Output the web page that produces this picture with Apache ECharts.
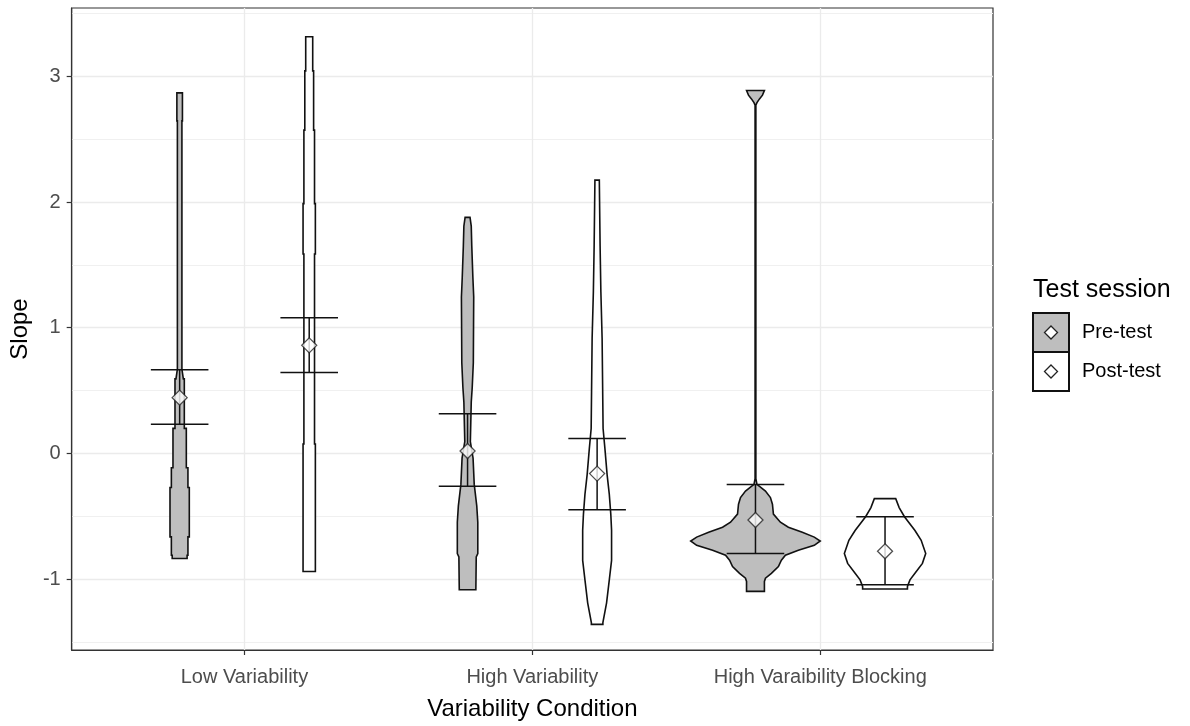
<!DOCTYPE html>
<html>
<head>
<meta charset="utf-8">
<script src="https://cdn.jsdelivr.net/npm/echarts@6/dist/echarts.min.js"></script>
<style>
  html, body { margin: 0; padding: 0; background: #ffffff; }
  #chart { width: 1190px; height: 726px; }
</style>
</head>
<body>
<div id="chart"></div>
<script>
// ---- data ----------------------------------------------------------------
const conditions = ['Low Variability', 'High Variability', 'High Varaibility Blocking'];
const sessions = ['Pre-test', 'Post-test'];
const yTicks = [-1, 0, 1, 2, 3];
const yMinorTicks = [-1.5, -0.5, 0.5, 1.5, 2.5, 3.5];

// violin outlines, top to bottom: [slope, relative density (widest = 100)]
const preLowProfile = [[2.868, 4.3], [2.645, 4.3], [2.645, 3.5], [0.67, 3.5], [0.593, 5.7], [0.593, 7.2], [0.2, 7.2], [0.2, 10.3], [-0.114, 10.3], [-0.114, 12.8], [-0.27, 12.8], [-0.27, 14.9], [-0.663, 14.9], [-0.663, 12.8], [-0.81, 12.8], [-0.81, 11.5], [-0.835, 11.5]];
const preHighProfile = [[1.878, 3.8], [1.808, 5.7], [1.651, 6.5], [1.402, 8.2], [1.245, 9.5], [0.722, 8.9], [0.525, 7.2], [0.408, 5.7], [0.094, 4.3], [-0.037, 8.5], [-0.246, 10.3], [-0.417, 14.2], [-0.547, 15.8], [-0.796, 15.8], [-0.822, 13.4], [-1.084, 12.8]];
const preBlockProfile = [[2.887, 13.8], [2.85, 10.8], [2.82, 6.2], [2.79, 2.3], [2.77, 0.6], [-0.2, 0.6], [-0.246, 2.3], [-0.299, 15.4], [-0.351, 23.1], [-0.403, 26.2], [-0.482, 27.7], [-0.547, 38.5], [-0.587, 50.8], [-0.626, 72.3], [-0.665, 90.8], [-0.696, 100], [-0.731, 90.8], [-0.77, 66.2], [-0.809, 46.2], [-0.849, 40], [-0.9, 35.4], [-0.953, 24.6], [-0.992, 15.4], [-1.018, 13.8], [-1.097, 13.8]];

const postLowProfile = [[3.314, 5.4], [3.043, 5.4], [3.043, 6.8], [2.572, 6.8], [2.572, 8.2], [1.987, 8.2], [1.987, 9.5], [1.587, 9.5], [1.587, 8.2], [0.075, 8.2], [0.075, 9.5], [-0.939, 9.5]];
const postHighProfile = [[2.174, 3.4], [1.651, 4.6], [1.284, 5.8], [0.918, 7.7], [0.199, 9.2], [0.041, 12], [-0.168, 15.4], [-0.325, 18.8], [-0.482, 21.1], [-0.61, 22.3], [-0.85, 22.3], [-1.005, 18.8], [-1.188, 14.6], [-1.345, 8.9], [-1.359, 8.9]];
const postBlockProfile = [[-0.359, 16.5], [-0.43, 21.8], [-0.503, 30], [-0.613, 46.2], [-0.691, 55.8], [-0.796, 62.8], [-0.874, 57.7], [-0.953, 46.2], [-1.005, 38.5], [-1.057, 34.6], [-1.078, 34.6]];

// mean and interval per condition
const preMean = [0.444, 0.02, -0.529];
const preLower = [0.232, -0.26, -0.795];
const preUpper = [0.665, 0.316, -0.246];
const postMean = [0.86, -0.16, -0.778];
const postLower = [0.645, -0.448, -1.045];
const postUpper = [1.08, 0.12, -0.503];

// ---- layout --------------------------------------------------------------
const DODGE = 0.225;      // offset of each session from the condition centre
const SLOT_HALF = 0.225;  // half width of the widest violin
const CAP_HALF = 0.1;     // half width of the interval caps
const FONT = '"Liberation Sans", Arial, sans-serif';
const FILLS = ['#BEBEBE', '#FFFFFF'];
const INK = '#111111';

const preProfiles = [preLowProfile, preHighProfile, preBlockProfile];
const postProfiles = [postLowProfile, postHighProfile, postBlockProfile];

function violinRenderer(profiles, offset, fill) {
  return function (params, api) {
    const i = params.dataIndex;
    const prof = profiles[i];
    const cx = i + 1 + offset;
    const left = prof.map(p => api.coord([cx - p[1] / 100 * SLOT_HALF, p[0]]));
    const right = prof.slice().reverse().map(p => api.coord([cx + p[1] / 100 * SLOT_HALF, p[0]]));
    return {
      type: 'polygon',
      shape: { points: left.concat(right) },
      style: { fill: fill, stroke: INK, lineWidth: 1.6, lineJoin: 'miter' }
    };
  };
}

function intervalRenderer(lower, upper, offset) {
  return function (params, api) {
    const i = params.dataIndex;
    const cx = i + 1 + offset;
    const lo = api.coord([cx, lower[i]]);
    const hi = api.coord([cx, upper[i]]);
    const loL = api.coord([cx - CAP_HALF, lower[i]]);
    const loR = api.coord([cx + CAP_HALF, lower[i]]);
    const hiL = api.coord([cx - CAP_HALF, upper[i]]);
    const hiR = api.coord([cx + CAP_HALF, upper[i]]);
    const st = { stroke: INK, lineWidth: 1.5 };
    return {
      type: 'group',
      children: [
        { type: 'line', shape: { x1: lo[0], y1: lo[1], x2: hi[0], y2: hi[1] }, style: st },
        { type: 'line', shape: { x1: loL[0], y1: loL[1], x2: loR[0], y2: loR[1] }, style: st },
        { type: 'line', shape: { x1: hiL[0], y1: hiL[1], x2: hiR[0], y2: hiR[1] }, style: st }
      ]
    };
  };
}

const catData = conditions.map((c, i) => [i + 1, 0]);

const series = [];
[[preProfiles, preLower, preUpper, preMean, -DODGE],
 [postProfiles, postLower, postUpper, postMean, DODGE]].forEach((s, k) => {
  const [profiles, lower, upper, mean, offset] = s;
  series.push({
    name: sessions[k], type: 'custom', z: 2,
    renderItem: violinRenderer(profiles, offset, FILLS[k]),
    data: catData, silent: true
  });
  series.push({
    type: 'custom', z: 3,
    renderItem: intervalRenderer(lower, upper, offset),
    data: catData, silent: true
  });
  series.push({
    type: 'scatter', z: 4, symbol: 'diamond', symbolSize: [15, 15],
    itemStyle: { color: '#FFFFFF', borderColor: '#222222', borderWidth: 1.3 },
    data: mean.map((m, i) => [i + 1 + offset, m]), silent: true
  });
});

const axisText = { color: '#4D4D4D', fontSize: 20, fontFamily: FONT };
const titleText = { color: '#000000', fontSize: 24, fontFamily: FONT };

// legend keys
const keyX = 1033, keyTop = 313, keyW = 36, keyH = 39;
const legendChildren = [
  { type: 'text', x: keyX, y: 290, style: { text: 'Test session', fill: '#000', font: '25px ' + FONT, verticalAlign: 'middle' } }
];
sessions.forEach((s, k) => {
  const y = keyTop + k * keyH;
  const cx = keyX + keyW / 2, cy = y + keyH / 2;
  legendChildren.push({ type: 'rect', shape: { x: keyX, y: y, width: keyW, height: keyH }, style: { fill: FILLS[k], stroke: INK, lineWidth: 2 } });
  legendChildren.push({ type: 'polygon', shape: { points: [[cx, cy - 6.5], [cx + 6.5, cy], [cx, cy + 6.5], [cx - 6.5, cy]] }, style: { fill: '#fff', stroke: '#222', lineWidth: 1.3 } });
  legendChildren.push({ type: 'text', x: keyX + 49, y: cy, style: { text: s, fill: '#000', font: '20px ' + FONT, verticalAlign: 'middle' } });
});

const chart = echarts.init(document.getElementById('chart'), null, { renderer: 'canvas' });
chart.setOption({
  animation: false,
  backgroundColor: '#ffffff',
  grid: {
    left: 70, right: 197, top: 8, bottom: 68,
    show: true, borderColor: '#333333', borderWidth: 1.2, backgroundColor: '#ffffff'
  },
  xAxis: {
    type: 'value', min: 0.4, max: 3.6,
    name: 'Variability Condition', nameLocation: 'middle', nameGap: 47,
    nameTextStyle: titleText,
    axisLine: { show: true, onZero: false, lineStyle: { color: '#333333', width: 1.2 } },
    axisTick: { show: true, length: 5, customValues: [1, 2, 3], lineStyle: { color: '#333333', width: 1.2 } },
    axisLabel: { customValues: [1, 2, 3], margin: 17, formatter: v => conditions[Math.round(v) - 1], ...axisText },
    splitLine: { show: true, lineStyle: { color: '#EBEBEB', width: 1.3 } }
  },
  yAxis: [{
    type: 'value', min: -1.563, max: 3.543,
    name: 'Slope', nameLocation: 'middle', nameGap: 38, nameRotate: 90,
    nameTextStyle: titleText,
    axisLine: { show: true, onZero: false, lineStyle: { color: '#333333', width: 1.2 } },
    axisTick: { show: true, length: 5, customValues: yTicks, lineStyle: { color: '#333333', width: 1.2 } },
    axisLabel: { customValues: yTicks, margin: 11, ...axisText },
    splitLine: { show: true, lineStyle: { color: '#EBEBEB', width: 1.3 } }
  }, {
    type: 'value', min: -1.563, max: 3.543, position: 'left',
    axisLine: { show: false }, axisTick: { show: false, customValues: yMinorTicks },
    axisLabel: { show: false, customValues: yMinorTicks },
    splitLine: { show: true, lineStyle: { color: '#F0F0F0', width: 1 } }
  }],
  graphic: legendChildren,
  series: series
});
</script>
</body>
</html>
